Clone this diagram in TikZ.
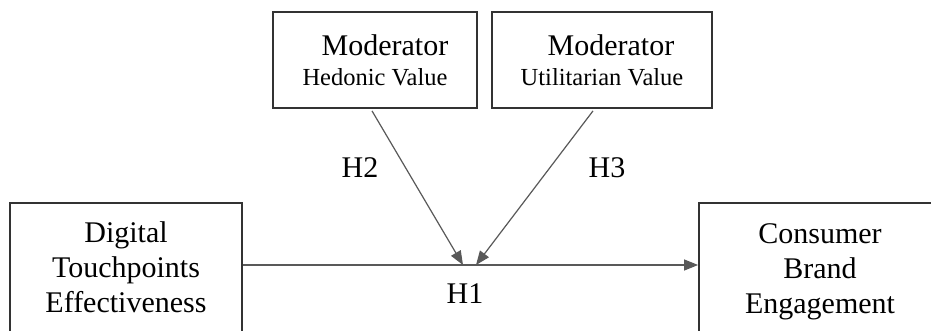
\documentclass[tikz,border=0pt]{standalone}
\usepackage{fontspec}
\setmainfont{Liberation Serif}
\usetikzlibrary{arrows.meta,positioning}

\tikzset{
  varbox/.style={draw=black!80,line width=1.8pt,align=center,inner sep=0pt,
    font=\fontsize{30}{35}\selectfont},
  modbox/.style={varbox,minimum height=96pt},
  path/.style={draw=black!65,line width=1.2pt,-{Triangle[length=14pt,width=11pt]}},
  hyp/.style={font=\fontsize{30}{35}\selectfont}
}

\begin{document}
\begin{tikzpicture}[x=1pt,y=-1pt]
  \clip (0,0) rectangle (931,331);
  \fill[white] (0,0) rectangle (931,331);

  % moderators
  \node[modbox,minimum width=204pt] (hed) at (375,60)
    {\hspace*{20pt}Moderator\\[-5pt]{\fontsize{24.5}{29}\selectfont Hedonic Value}};
  \node[modbox,minimum width=220pt] (utl) at (602,60)
    {\hspace*{18pt}Moderator\\[-5pt]{\fontsize{24.5}{29}\selectfont Utilitarian Value}};

  % main variables
  \node[varbox,minimum width=232pt,minimum height=137pt,text depth=8pt] (dte) at (126,271.5)
    {Digital\\Touchpoints\\Effectiveness};
  \node[varbox,minimum width=242pt,minimum height=137pt,text depth=6pt] (cbe) at (820,271.5)
    {Consumer\\Brand\\Engagement};

  \coordinate (h2end) at (463,265);
  \coordinate (h3end) at (476,265);

  \draw[path] ([yshift=6.5pt]dte.east) -- ([yshift=6.5pt]cbe.west);
  \draw[path] ([xshift=-3pt,yshift=-2pt]hed.south) -- (h2end);
  \draw[path] ([xshift=-9pt,yshift=-2pt]utl.south) -- (h3end);

  \node[hyp] (h1) at (465,294) {H1};
  \node[hyp] (h2) at (360,168) {H2};
  \node[hyp] (h3) at (607,168) {H3};
\end{tikzpicture}
\end{document}
